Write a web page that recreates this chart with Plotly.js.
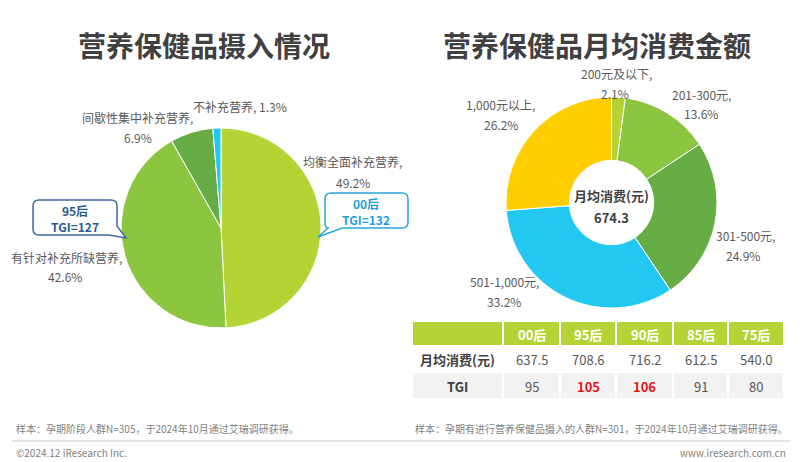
<!DOCTYPE html>
<html>
<head>
<meta charset="utf-8">
<script src="https://cdn.plot.ly/plotly-3.0.1.min.js"></script>
<style>
html,body{margin:0;padding:0;background:#fff;}
#chart{width:800px;height:462px;}
</style>
</head>
<body>
<div id="chart"></div>
<script>
// ---- Data ----
const intakeNames = ['均衡全面补充营养', '有针对补充所缺营养', '间歇性集中补充营养', '不补充营养'];
const intakeValues = [49.2, 42.6, 6.9, 1.3];

const spendNames = ['200元及以下', '201-300元', '301-500元', '501-1,000元', '1,000元以上'];
const spendValues = [2.1, 13.6, 24.9, 33.2, 26.2];
const avgSpend = 674.3;

const generations = ['00后', '95后', '90后', '85后', '75后'];
const genSpend = [637.5, 708.6, 716.2, 612.5, 540.0];
const genTGI = [95, 105, 106, 91, 80];
const rowLabels = ['月均消费(元)', 'TGI'];

const calloutGens = ['95后', '00后'];
const calloutTGI = [127, 132];

// ---- Styling ----
const FONT = '"Noto Sans CJK SC", "Microsoft YaHei", sans-serif';
const W = 800, H = 462;
const px = x => x / W;
const py = y => 1 - y / H;
const pp = (x, y) => `${(x / W).toFixed(5)},${(1 - y / H).toFixed(5)}`;

const intakeColors = ['#b4d335', '#8cc540', '#67ad45', '#22c8f0'];
const spendColors = ['#b4d335', '#8cc540', '#67ad45', '#22c8f0', '#ffcd00'];
const LABEL = '#595959';

const traces = [
  {
    type: 'pie',
    values: intakeValues,
    labels: intakeNames,
    sort: false,
    direction: 'clockwise',
    rotation: 0,
    textinfo: 'none',
    marker: {colors: intakeColors, line: {color: '#ffffff', width: 1}},
    domain: {x: [px(121), px(321)], y: [py(328), py(128)]},
    showlegend: false,
    hoverinfo: 'label+percent'
  },
  {
    type: 'pie',
    values: spendValues,
    labels: spendNames,
    sort: false,
    direction: 'clockwise',
    rotation: 0,
    hole: 0.40,
    textinfo: 'none',
    marker: {colors: spendColors, line: {color: '#ffffff', width: 1}},
    domain: {x: [px(506), px(717)], y: [py(308), py(97)]},
    showlegend: false,
    hoverinfo: 'label+percent'
  }
];

const ann = [];
function txt(x, y, text, size, color, bold, anchor, vanchor) {
  ann.push({
    xref: 'paper', yref: 'paper', x: px(x), y: py(y),
    xanchor: anchor || 'center', yanchor: vanchor || 'middle',
    text: bold ? `<b>${text}</b>` : text,
    showarrow: false,
    font: {family: FONT, size: size, color: color}
  });
}
const shapes = [];
function rect(x0, y0, x1, y1, color) {
  shapes.push({type: 'rect', xref: 'paper', yref: 'paper', x0: px(x0), x1: px(x1), y0: py(y1), y1: py(y0),
    fillcolor: color, line: {width: 0}, layer: 'below'});
}

// titles
txt(204, 45, '营养保健品摄入情况', 28, '#404040', true);
txt(597, 45, '营养保健品月均消费金额', 28, '#404040', true);

// left pie labels
txt(352, 161, intakeNames[0] + ',', 12, LABEL);
txt(353, 182, intakeValues[0].toFixed(1) + '%', 12, LABEL);
txt(66, 257, intakeNames[1] + ',', 12, LABEL);
txt(65, 276, intakeValues[1].toFixed(1) + '%', 12, LABEL);
txt(137, 117, intakeNames[2] + ',', 12, LABEL);
txt(138, 137, intakeValues[2].toFixed(1) + '%', 12, LABEL);
txt(240, 106, intakeNames[3] + ', ' + intakeValues[3].toFixed(1) + '%', 12, LABEL);

// right donut labels
const spendLabelPos = [[616, 73, 615, 93], [701, 94, 701, 113], [745, 235, 743, 255], [504, 281, 504, 301], [500, 104, 501, 124]];
spendNames.forEach((n, i) => {
  const p = spendLabelPos[i];
  txt(p[0], p[1], n + ',', 12, LABEL);
  txt(p[2], p[3], spendValues[i].toFixed(1) + '%', 12, LABEL);
});

// donut centre
txt(611, 207, '月均消费(元)', 13, '#404040', true, 'center', 'bottom');
txt(611, 206, avgSpend.toFixed(1), 13, '#404040', true, 'center', 'top');

// callouts
txt(75, 218, calloutGens[0] + '<br>TGI=' + calloutTGI[0], 12, '#2b5c8f', true);
txt(366, 211, calloutGens[1] + '<br>TGI=' + calloutTGI[1], 12, '#1f9fd9', true);

// ---- table (cells drawn as shapes, text as annotations) ----
const colEdges = [412, 503, 560, 616, 673, 728, 784];
const rowEdges = [[322, 345], [346, 372], [373, 398]];
const GAP = 1;
const rowFill = ['#b4d335', '#ffffff', '#f2f2f2'];
for (let r = 0; r < 3; r++) {
  for (let c = 0; c < colEdges.length - 1; c++) {
    rect(colEdges[c] + GAP, rowEdges[r][0], colEdges[c + 1] - GAP, rowEdges[r][1], rowFill[r]);
  }
}
const colCenter = c => (colEdges[c] + colEdges[c + 1]) / 2;
const rowCenter = r => (rowEdges[r][0] + rowEdges[r][1]) / 2 + 0.5;
generations.forEach((g, i) => txt(colCenter(i + 1), rowCenter(0), g, 13, '#ffffff', true));
rowLabels.forEach((l, r) => txt(colCenter(0), rowCenter(r + 1), l, 13, '#404040', true));
genSpend.forEach((v, i) => txt(colCenter(i + 1), rowCenter(1), v.toFixed(1), 13, LABEL, false));
genTGI.forEach((v, i) => txt(colCenter(i + 1), rowCenter(2), String(v), 13, v > 100 ? '#e8141c' : LABEL, v > 100));

// footer
txt(14, 428, '样本：孕期阶段人群N=305，于2024年10月通过艾瑞调研获得。', 10, '#7f7f7f', false, 'left');
txt(413, 428, '样本：孕期有进行营养保健品摄入的人群N=301，于2024年10月通过艾瑞调研获得。', 10, '#7f7f7f', false, 'left');
txt(14, 452, '©2024.12 iResearch Inc.', 10, '#7f7f7f', false, 'left');
txt(788, 452, 'www.iresearch.com.cn', 10, '#7f7f7f', false, 'right');

const box95 = 'M' + pp(39, 200) + ' L' + pp(111, 200) + ' Q' + pp(117, 200) + ' ' + pp(117, 206) +
  ' L' + pp(117, 226) + ' L' + pp(126, 238) + ' L' + pp(109, 235) + ' L' + pp(39, 235) +
  ' Q' + pp(33, 235) + ' ' + pp(33, 229) + ' L' + pp(33, 206) + ' Q' + pp(33, 200) + ' ' + pp(39, 200) + ' Z';
const box00 = 'M' + pp(331, 193) + ' L' + pp(402, 193) + ' Q' + pp(408, 193) + ' ' + pp(408, 199) +
  ' L' + pp(408, 222) + ' Q' + pp(408, 228) + ' ' + pp(402, 228) + ' L' + pp(342, 228) +
  ' L' + pp(318, 237) + ' L' + pp(328, 228) + ' Q' + pp(325, 228) + ' ' + pp(325, 222) +
  ' L' + pp(325, 199) + ' Q' + pp(325, 193) + ' ' + pp(331, 193) + ' Z';

shapes.push(
  {type: 'path', xref: 'paper', yref: 'paper', path: box95, fillcolor: '#ffffff', line: {color: '#3f6a9a', width: 1.5}},
  {type: 'path', xref: 'paper', yref: 'paper', path: box00, fillcolor: '#ffffff', line: {color: '#2aa6dc', width: 1.5}},
  {type: 'line', xref: 'paper', yref: 'paper', x0: px(12), x1: px(790), y0: py(441), y1: py(441), line: {color: '#c8c8c8', width: 1}}
);

const layout = {
  width: W, height: H,
  margin: {l: 0, r: 0, t: 0, b: 0},
  paper_bgcolor: '#ffffff',
  plot_bgcolor: '#ffffff',
  showlegend: false,
  font: {family: FONT},
  annotations: ann,
  shapes: shapes
};

Plotly.newPlot('chart', traces, layout, {displayModeBar: false, staticPlot: true});
</script>
</body>
</html>
